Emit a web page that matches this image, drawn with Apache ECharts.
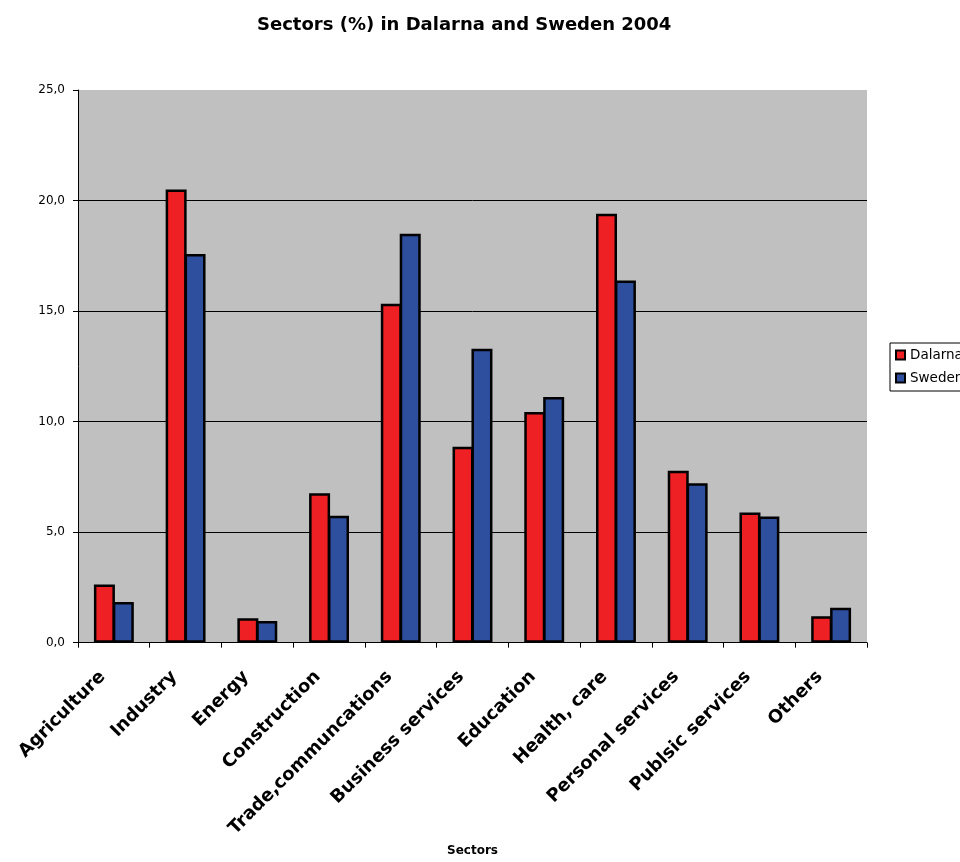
<!DOCTYPE html>
<html>
<head>
<meta charset="utf-8">
<script src="https://cdn.jsdelivr.net/npm/echarts@6/dist/echarts.min.js"></script>
<style>
html,body{margin:0;padding:0;background:#fff;}
#chart{width:960px;height:862px;}
</style>
</head>
<body>
<div id="chart"></div>
<script>
const categories = ["Agriculture","Industry","Energy","Construction","Trade,communcations","Business services","Education","Health, care","Personal services","Publsic services","Others"];
const dalarna = [2.63, 20.5, 1.1, 6.76, 15.33, 8.86, 10.44, 19.4, 7.78, 5.89, 1.19];
const sweden  = [1.84, 17.58, 0.98, 5.74, 18.5, 13.29, 11.11, 16.38, 7.21, 5.71, 1.58];
const yTicks = { min: 0, max: 25, interval: 5 };

const FONT = "DejaVu Sans";
const chart = echarts.init(document.getElementById('chart'), null, {renderer:'canvas'});
chart.setOption({
  animation: false,
  backgroundColor: '#ffffff',
  title: {
    text: 'Sectors (%) in Dalarna and Sweden 2004',
    left: 252, top: 11,
    textStyle: { fontFamily: FONT, fontWeight: 'bold', fontSize: 18, color: '#000' }
  },
  legend: {
    orient: 'vertical',
    left: 890, top: 343,
    padding: [5, 30, 6, 5],
    backgroundColor: '#ffffff',
    borderColor: '#000', borderWidth: 1, borderRadius: 0,
    itemWidth: 9, itemHeight: 9, itemGap: 9,
    icon: 'rect',
    textStyle: { fontFamily: FONT, fontSize: 13.5, color: '#000' },
    data: ['Dalarna','Sweden']
  },
  grid: {
    left: 78, right: 93, top: 90, bottom: 218,
    show: true, backgroundColor: '#C0C0C0', borderWidth: 0
  },
  xAxis: {
    type: 'category',
    data: categories,
    name: 'Sectors',
    nameLocation: 'middle',
    nameGap: 202,
    nameTextStyle: { fontFamily: FONT, fontWeight: 'bold', fontSize: 12, color: '#000' },
    axisLine: { lineStyle: { color: '#000', width: 1 } },
    axisTick: { show: true, length: 5, lineStyle: { color: '#000' } },
    axisLabel: {
      interval: 0, rotate: 45, margin: 20, hideOverlap: false,
      padding: [0, 16, 0, 0],
      fontFamily: FONT, fontWeight: 'bold', fontSize: 18, color: '#000'
    },
    splitLine: { show: false }
  },
  yAxis: {
    type: 'value',
    min: yTicks.min, max: yTicks.max, interval: yTicks.interval,
    axisLine: { show: true, lineStyle: { color: '#000', width: 1 } },
    axisTick: { show: true, length: 5, lineStyle: { color: '#000' } },
    axisLabel: {
      margin: 13, fontFamily: FONT, fontSize: 12, color: '#000',
      formatter: v => v.toFixed(1).replace('.', ',')
    },
    splitLine: { show: true, showMinLine: false, showMaxLine: false, lineStyle: { color: '#000', width: 1 } }
  },
  series: [
    {
      name: 'Dalarna', type: 'bar', data: dalarna,
      barWidth: 21, barGap: '-10%',
      itemStyle: { color: '#EE2024', borderColor: '#000', borderWidth: 2.5 }
    },
    {
      name: 'Sweden', type: 'bar', data: sweden,
      barWidth: 21, barGap: '-10%',
      itemStyle: { color: '#2E4E9E', borderColor: '#000', borderWidth: 2.5 }
    }
  ]
});
</script>
</body>
</html>
